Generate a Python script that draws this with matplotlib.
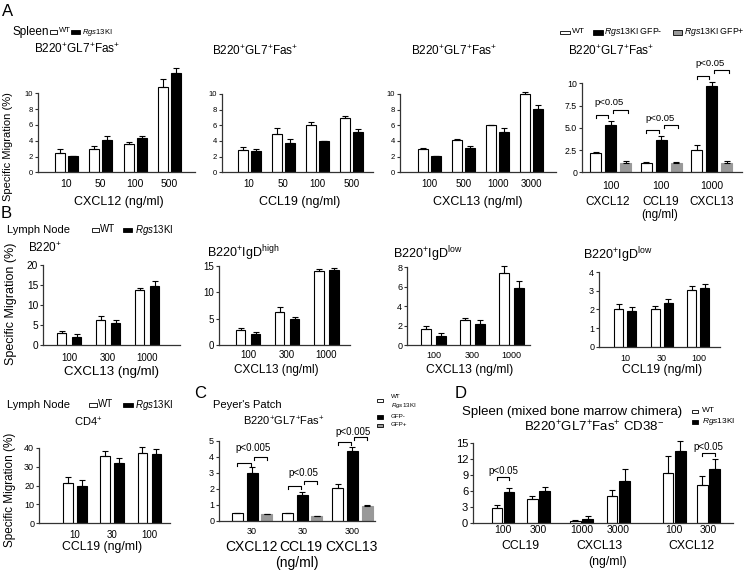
import numpy as np
import matplotlib
matplotlib.use('Agg')
import matplotlib.pyplot as plt
from matplotlib.patches import Rectangle

plt.rcParams['font.family'] = ['Liberation Sans', 'DejaVu Sans']
plt.rcParams['mathtext.fontset'] = 'custom'
plt.rcParams['mathtext.rm'] = 'Liberation Sans'
plt.rcParams['mathtext.it'] = 'Liberation Sans:italic'
plt.rcParams['mathtext.default'] = 'regular'

# ---- data ----
# A: spleen GC B cells
a1_doses = ['10', '50', '100', '500']
a1_wt, a1_wt_err = [2.5, 2.95, 3.6, 10.8], [0.4, 0.35, 0.2, 1.05]
a1_ki, a1_ki_err = [2.1, 4.1, 4.35, 12.6], [0.0, 0.45, 0.25, 0.65]

a2_doses = ['10', '50', '100', '500']
a2_wt, a2_wt_err = [2.9, 4.85, 6.1, 6.9], [0.3, 0.8, 0.3, 0.3]
a2_ki, a2_ki_err = [2.7, 3.8, 4.0, 5.2], [0.3, 0.45, 0.0, 0.35]

a3_doses = ['100', '500', '1000', '3000']
a3_wt, a3_wt_err = [3.0, 4.1, 6.1, 9.95], [0.1, 0.2, 0.0, 0.25]
a3_ki, a3_ki_err = [2.05, 3.1, 5.1, 8.1], [0.0, 0.2, 0.6, 0.5]

a4_doses = ['100', '100', '1000']
a4_chemo = ['CXCL12', 'CCL19', 'CXCL13']
a4_wt, a4_wt_err = [2.15, 1.0, 2.5], [0.15, 0.15, 0.55]
a4_neg, a4_neg_err = [5.35, 3.65, 9.7], [0.45, 0.45, 0.5]
a4_pos, a4_pos_err = [1.1, 1.1, 1.1], [0.15, 0.1, 0.15]

# B: lymph node
b_doses = ['100', '300', '1000']
b1_wt, b1_wt_err = [3.0, 6.2, 13.7], [0.5, 1.2, 0.5]
b1_ki, b1_ki_err = [2.15, 5.65, 14.8], [0.55, 0.75, 1.2]
b2_wt, b2_wt_err = [2.9, 6.35, 14.0], [0.4, 0.9, 0.4]
b2_ki, b2_ki_err = [2.2, 4.9, 14.15], [0.4, 0.4, 0.55]
b3_wt, b3_wt_err = [1.65, 2.6, 7.4], [0.35, 0.25, 0.75]
b3_ki, b3_ki_err = [0.92, 2.15, 5.9], [0.33, 0.4, 0.7]
b4_doses = ['10', '30', '100']
b4_wt, b4_wt_err = [2.0, 2.0, 3.03], [0.28, 0.17, 0.25]
b4_ki, b4_ki_err = [1.92, 2.37, 3.17], [0.21, 0.18, 0.22]

cd4_doses = ['10', '30', '100']
cd4_wt, cd4_wt_err = [21.5, 35.6, 37.4], [2.8, 2.8, 2.8]
cd4_ki, cd4_ki_err = [19.75, 32.1, 36.7], [3.15, 2.6, 2.5]

# C: Peyer's patch
c_doses = ['30', '30', '300']
c_chemo = ['CXCL12', 'CCL19', 'CXCL13']
c_wt, c_wt_err = [0.52, 0.48, 2.04], [0.0, 0.0, 0.27]
c_neg, c_neg_err = [2.98, 1.6, 4.37], [0.42, 0.23, 0.28]
c_pos, c_pos_err = [0.42, 0.31, 0.94], [0.0, 0.0, 0.08]

# D: mixed bone marrow chimera
d_doses = ['100', '300', '1000', '3000', '100', '300']
d_chemo = ['CCL19', 'CXCL13', 'CXCL12']
d_wt, d_wt_err = [2.8, 4.5, 0.5, 5.2, 9.5, 7.2], [0.6, 0.6, 0.2, 1.05, 3.1, 1.7]
d_ki, d_ki_err = [5.8, 6.05, 0.9, 7.95, 13.55, 10.2], [0.75, 0.85, 0.45, 2.15, 1.95, 1.85]

# ---- layout ----
W, H = 748, 571
fig = plt.figure(figsize=(W / 100, H / 100), dpi=100)
AXC = '#333333'
GREY = '#999999'
KI = r'$\mathit{Rgs13}$KI'


def label(x, y, s, size=8, ha='center', va='center', **kw):
    fig.text(x / W, 1 - y / H, s, fontsize=size, ha=ha, va=va, **kw)


def square(x, y, w, h, fc):
    fig.add_artist(Rectangle((x / W, 1 - (y + h / 2) / H), w / W, h / H,
                             transform=fig.transFigure, fc=fc, ec='black', lw=0.6))


def panel(x0, x1, y0, tpx, tval, top, c0, step, yticks, ylabels=None,
          xs=7, ys=6, xpad=4):
    ppu = (y0 - tpx) / tval
    ax = fig.add_axes([x0 / W, 1 - y0 / H, (x1 - x0) / W, (y0 - top) / H])
    ax.set_ylim(0, (y0 - top) / ppu)
    ax.set_xlim(-(c0 - x0) / step, (x1 - c0) / step)
    ax.patch.set_alpha(0)
    for s in ['top', 'right']:
        ax.spines[s].set_visible(False)
    for s in ['left', 'bottom']:
        ax.spines[s].set_color(AXC)
        ax.spines[s].set_linewidth(0.9)
    ax.spines['left'].set_bounds(0, yticks[-1])
    ax.set_yticks(yticks)
    if ylabels is not None:
        ax.set_yticklabels(ylabels)
    ax.tick_params(axis='y', length=2.5, width=0.8, pad=1, labelsize=ys, color=AXC)
    ax.tick_params(axis='x', length=0, pad=xpad, labelsize=xs)
    return ax, step, ppu


def errs(ax, x, v, e, cap=2):
    ax.errorbar(x, v, yerr=[np.zeros(len(v)), e], fmt='none', ecolor='black',
                elinewidth=0.8, capsize=cap, capthick=0.8)


def pairs(p, xs, wt, wte, ki, kie, wpx, opx):
    ax, step, ppu = p
    x = np.asarray(xs, dtype=float)
    w, o = wpx / step, opx / step
    ax.bar(x - o, wt, w, color='white', edgecolor='black', lw=0.8)
    ax.bar(x + o, ki, w, color='black', edgecolor='black', lw=0.8)
    errs(ax, x - o, wt, wte)
    errs(ax, x + o, ki, kie)


def triples(p, wt, wte, neg, nege, pos, pose, wpx, spx):
    ax, step, ppu = p
    x = np.arange(len(wt), dtype=float)
    w, s = wpx / step, spx / step
    ax.bar(x - s, wt, w, color='white', edgecolor='black', lw=0.8)
    ax.bar(x, neg, w, color='black', edgecolor='black', lw=0.8)
    ax.bar(x + s, pos, w, color=GREY, edgecolor=GREY, lw=0.8)
    errs(ax, x - s, wt, wte)
    errs(ax, x, neg, nege)
    errs(ax, x + s, pos, pose)
    return x, s


def bracket(p, xa, xb, y, drop_px=3):
    ax, step, ppu = p
    d = drop_px / ppu
    ax.plot([xa, xa, xb, xb], [y - d, y, y, y - d], color='black', lw=0.8)


# ================= A =================
label(8, 11, 'A', 12)
label(12, 32, 'Spleen', 8.5, ha='left')
square(50, 32, 7, 4, 'white'); label(58.5, 31, 'WT', 5.5, ha='left')
square(71, 32, 9, 4, 'black'); label(82, 32, KI, 5.5, ha='left')
label(8, 147, 'Specific Migration (%)', 8, rotation=90)

gc = r'B220$^{+}$GL7$^{+}$Fas$^{+}$'

pA1 = panel(38, 195, 172.3, 93.3, 10, 60, 66.2, 34.5, [0, 2, 4, 6, 8, 10], xs=7.5, ys=5.5, xpad=5)
pairs(pA1, range(4), a1_wt, a1_wt_err, a1_ki, a1_ki_err, 10, 6.3)
pA1[0].set_xticks(range(4), a1_doses)
label(77, 49, gc, 8.5)
label(119, 202, 'CXCL12 (ng/ml)', 9)

pA2 = panel(222, 373, 172.3, 94, 10, 60, 249, 34.3, [0, 2, 4, 6, 8, 10], xs=7, ys=5.5, xpad=5)
pairs(pA2, range(4), a2_wt, a2_wt_err, a2_ki, a2_ki_err, 10, 6.5)
pA2[0].set_xticks(range(4), a2_doses)
label(255, 51, gc, 8.5)
label(300, 202, 'CCL19 (ng/ml)', 9)

pA3 = panel(400, 556, 172.3, 94, 10, 60, 429, 34.3, [0, 2, 4, 6, 8, 10], xs=7, ys=5.5, xpad=5)
pairs(pA3, range(4), a3_wt, a3_wt_err, a3_ki, a3_ki_err, 10, 6.5)
pA3[0].set_xticks(range(4), a3_doses)
label(454, 51, gc, 8.5)
label(478, 202, 'CXCL13 (ng/ml)', 9)

pA4 = panel(582, 742, 172.3, 83.3, 10, 55, 610.5, 50.5, [0, 2.5, 5, 7.5, 10],
            ['0', '2.5', '5.0', '7.5', '10'], xs=7.5, ys=6.3, xpad=6)
x4, s4 = triples(pA4, a4_wt, a4_wt_err, a4_neg, a4_neg_err, a4_pos, a4_pos_err, 11, 15)
pA4[0].set_xticks(range(3), a4_doses)
g = 2.5 / pA4[1]
for i in range(3):
    top = a4_neg[i] + a4_neg_err[i]
    bracket(pA4, x4[i] - s4, x4[i] - g, top + 0.65)
    bracket(pA4, x4[i] + g, x4[i] + s4 + 0.04, top + 1.25)
    pA4[0].text(x4[i] - 0.02, top + 2.0, 'p<0.05', fontsize=6.8, ha='center', va='center')
label(568, 51, gc, 8.5, ha='left')
square(560, 32.5, 10, 3.8, 'white'); label(571.5, 31.5, 'WT', 6, ha='left')
square(593, 32.5, 10, 4, 'black'); label(604.5, 32.5, KI + ' GFP-', 6.3, ha='left')
square(673, 32.5, 8.5, 4, GREY); label(683.5, 32.5, KI + ' GFP+', 6.3, ha='left')
for i, name in enumerate(a4_chemo):
    label(610.5 + i * 50.5 - (3 if i == 0 else 0), 202, name, 8.5)
label(660, 215, '(ng/ml)', 8.5)

# ================= B =================
label(6, 213, 'B', 12)
label(7, 230, 'Lymph Node', 8, ha='left')
square(92, 230, 6.7, 4, 'white'); label(100, 229, 'WT', 7, ha='left')
square(123, 230, 9.3, 4, 'black'); label(135, 230, KI, 7, ha='left')
label(11, 304, 'Specific Migration (%)', 9, rotation=90)

pB1 = panel(43, 180, 345.3, 265, 20, 262, 69.2, 39, [0, 5, 10, 15, 20], xs=7, ys=7.3, xpad=5.5)
pairs(pB1, range(3), b1_wt, b1_wt_err, b1_ki, b1_ki_err, 9.5, 7.5)
pB1[0].set_xticks(range(3), b_doses)
label(28, 248, r'B220$^{+}$', 8.5, ha='left')
label(111, 372, 'CXCL13 (ng/ml)', 9.5)

pB2 = panel(219, 350, 345.3, 266, 15, 262, 248, 39.2, [0, 5, 10, 15], xs=7, ys=7, xpad=3.5)
pairs(pB2, range(3), b2_wt, b2_wt_err, b2_ki, b2_ki_err, 9.5, 7.5)
pB2[0].set_xticks(range(3), b_doses)
label(207, 253, r'B220$^{+}$IgD$^{high}$', 9, ha='left')
label(276, 370, 'CXCL13 (ng/ml)', 8.5)

pB3 = panel(407, 530, 345.3, 267.3, 8, 262, 433.5, 39, [0, 2, 4, 6, 8], xs=6.5, ys=6.5, xpad=4)
pairs(pB3, range(3), b3_wt, b3_wt_err, b3_ki, b3_ki_err, 9.5, 7.5)
pB3[0].set_xticks(range(3), b_doses)
label(393, 254, r'B220$^{+}$IgD$^{low}$', 9, ha='left')
label(470, 370, 'CXCL13 (ng/ml)', 8.7)

pB4 = panel(599, 720, 346.7, 272.3, 4, 262, 625, 36.7, [0, 1, 2, 3, 4], xs=6.5, ys=6.5, xpad=5)
pairs(pB4, range(3), b4_wt, b4_wt_err, b4_ki, b4_ki_err, 9, 6.5)
pB4[0].set_xticks(range(3), b4_doses)
label(583, 255, r'B220$^{+}$IgD$^{low}$', 9, ha='left')
label(662, 370, 'CCL19 (ng/ml)', 8.8)

# ============ Lymph node CD4 ============
label(7, 405, 'Lymph Node', 8, ha='left')
square(89, 405, 7.5, 4, 'white'); label(98, 404, 'WT', 7, ha='left')
square(123, 405, 10, 4, 'black'); label(135, 405, KI, 7, ha='left')
label(10, 490, 'Specific Migration (%)', 8.5, rotation=90)

pCD = panel(39, 170, 523.3, 447.7, 40, 440, 75, 37.2, [0, 10, 20, 30, 40], xs=7, ys=6.5, xpad=5)
pairs(pCD, range(3), cd4_wt, cd4_wt_err, cd4_ki, cd4_ki_err, 9.5, 7)
pCD[0].set_xticks(range(3), cd4_doses)
label(88, 422, r'CD4$^{+}$', 8)
label(102.5, 547, 'CCL19 (ng/ml)', 8.8)

# ================= C =================
label(200, 393, 'C', 12)
label(213, 405, "Peyer's Patch", 8, ha='left')
label(284, 421, gc, 8)
pC = panel(219, 375, 521, 441, 5, 428, 252, 50.2, [0, 1, 2, 3, 4, 5], xs=6.5, ys=6.5, xpad=4)
xc, sc = triples(pC, c_wt, c_wt_err, c_neg, c_neg_err, c_pos, c_pos_err, 11, 14.7)
pC[0].set_xticks(range(3), c_doses)
g = 1.5 / pC[1]
c_ptxt = ['p<0.005', 'p<0.05', 'p<0.005']
c_lift = [(0.25, 0.58, 1.15), (0.36, 0.67, 1.2), (0.31, 0.62, 0.93)]
for i in range(3):
    top = c_neg[i] + c_neg_err[i]
    l1, l2, lt = c_lift[i]
    bracket(pC, xc[i] - sc, xc[i] - g, top + l1)
    bracket(pC, xc[i] + g, xc[i] + sc, top + l2)
    pC[0].text(xc[i] + 0.02, top + lt, c_ptxt[i], fontsize=7, ha='center', va='center')
for i, name in enumerate(c_chemo):
    label(252 + i * 50.2 - 1, 546.7, name, 10)
label(297, 562.5, '(ng/ml)', 10)
square(376.7, 400.3, 6.7, 3.3, 'white'); label(391, 396.6, 'WT', 4.5, ha='left')
label(391, 405.4, KI, 4.5, ha='left')
square(376.7, 417.3, 6.7, 4, 'black'); label(391, 416, 'GFP-', 4.5, ha='left')
square(376.7, 425.3, 6.7, 3.3, GREY); label(391, 425, 'GFP+', 4.5, ha='left')

# ================= D =================
label(461, 394, 'D', 12)
label(461.5, 411.7, 'Spleen (mixed bone marrow chimera)', 9.5, ha='left')
square(691.5, 411.7, 6.7, 3.5, 'white'); label(701.5, 411, 'WT', 6, ha='left')
square(691.5, 421.7, 6.7, 3.8, 'black'); label(701.5, 421.7, KI, 6, ha='left')
label(594, 426.7, r'B220$^{+}$GL7$^{+}$Fas$^{+}$ CD38$^{-}$', 9.5)

d_pos = [0, 1, 2.21, 3.25, 4.82, 5.79]
pD = panel(473, 733, 523.3, 443.3, 15, 432, 503, 35.5, [0, 3, 6, 9, 12, 15], xs=7.5, ys=8, xpad=1.5)
pairs(pD, d_pos, d_wt, d_wt_err, d_ki, d_ki_err, 10.5, 6.2)
pD[0].set_xticks(d_pos, d_doses)
o = 6.2 / pD[1]
d_brk = [(0, 8.63, 9.9), (5, 13.1, 14.4)]
for k, yb, yt in d_brk:
    bracket(pD, d_pos[k] - o, d_pos[k] + o, yb)
    pD[0].text(d_pos[k], yt, 'p<0.05', fontsize=7, ha='center', va='center')
for i, name in enumerate(d_chemo):
    xm = 503 + 35.5 * (d_pos[2 * i] + d_pos[2 * i + 1]) / 2
    label(xm, 545.7, name, 8.8)
label(608, 561.7, '(ng/ml)', 8.8)

fig.savefig('out.png', dpi=100)
